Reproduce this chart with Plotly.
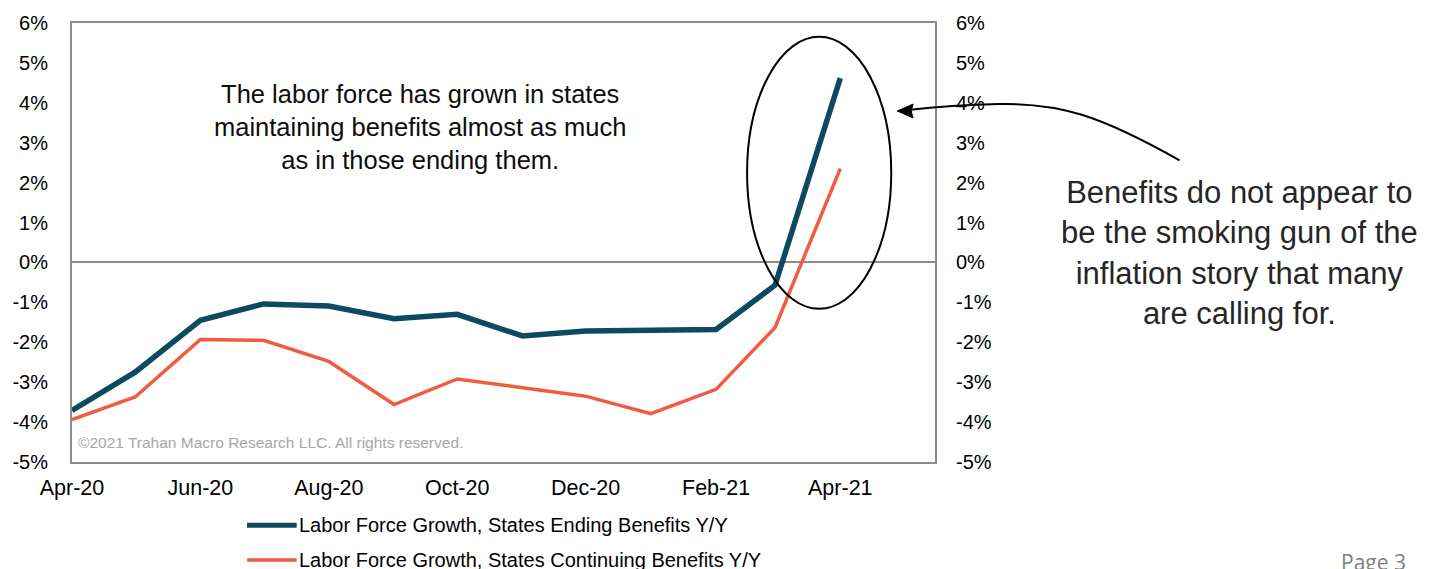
import plotly.graph_objects as go

# Monthly year-over-year labor force growth (%)
months = ["2020-04-01", "2020-05-01", "2020-06-01", "2020-07-01", "2020-08-01",
          "2020-09-01", "2020-10-01", "2020-11-01", "2020-12-01", "2021-01-01",
          "2021-02-01", "2021-03-01", "2021-04-01"]
ending_benefits = [-3.71, -2.75, -1.45, -1.04, -1.09, -1.41, -1.30, -1.84, -1.72,
                   -1.71, -1.68, -0.57, 4.62]
continuing_benefits = [-3.94, -3.37, -1.93, -1.95, -2.48, -3.56, -2.92, -3.14, -3.35,
                       -3.79, -3.18, -1.63, 2.35]

y_ticks = [-5, -4, -3, -2, -1, 0, 1, 2, 3, 4, 5, 6]
y_ticktext = [f"{v}%" for v in y_ticks]

name_ending = "Labor Force Growth, States Ending Benefits Y/Y"
name_continuing = "Labor Force Growth, States Continuing Benefits Y/Y"

C_ENDING = "#0C4A60"
C_CONT = "#F15B40"
FONT = "Liberation Sans, Arial, sans-serif"

W, H = 1442, 569
L, R, T, B = 67, 935, 18, 462  # plot rectangle in pixels


def px(x):
    return (x - L) / (R - L)


def py(y):
    return (B - y) / (B - T)


fig = go.Figure()
fig.add_trace(go.Scatter(x=months, y=ending_benefits, mode="lines", name=name_ending,
                         line=dict(color=C_ENDING, width=5.5), showlegend=False))
fig.add_trace(go.Scatter(x=months, y=continuing_benefits, mode="lines", name=name_continuing,
                         line=dict(color=C_CONT, width=3.5), yaxis="y2", showlegend=False))

axis_font = dict(family=FONT, size=20, color="#000000")

fig.update_layout(
    width=W, height=H,
    margin=dict(l=L, r=W - R, t=T, b=H - B, pad=0),
    paper_bgcolor="white", plot_bgcolor="white",
    font=dict(family=FONT, color="#000000"),
    xaxis=dict(
        type="date", range=["2020-04-01", "2021-05-16"],
        tick0="2020-04-01", dtick="M2", tickformat="%b-%y",
        showgrid=False, zeroline=False,
        showline=True, mirror=True, linecolor="#8C8C8C", linewidth=2,
        ticks="", ticklabelstandoff=5,
        tickfont=dict(family=FONT, size=21.5, color="#000000"),
    ),
    yaxis=dict(
        range=[-5, 6], tickvals=y_ticks, ticktext=y_ticktext,
        showgrid=False, zeroline=True, zerolinecolor="#8C8C8C", zerolinewidth=1.5,
        showline=True, mirror=True, linecolor="#8C8C8C", linewidth=2,
        ticks="", ticklabelstandoff=18, tickfont=axis_font,
    ),
    yaxis2=dict(
        range=[-5, 6], tickvals=y_ticks, ticktext=y_ticktext,
        overlaying="y", side="right", anchor="x",
        showgrid=False, zeroline=False, showline=False,
        ticks="", ticklabelstandoff=20, tickfont=axis_font,
    ),
)

shapes = []
# legend samples
shapes.append(dict(type="line", xref="paper", yref="paper",
                   x0=px(243), x1=px(293), y0=py(526), y1=py(526),
                   line=dict(color=C_ENDING, width=5)))
shapes.append(dict(type="line", xref="paper", yref="paper",
                   x0=px(243), x1=px(293), y0=py(561), y1=py(561),
                   line=dict(color=C_CONT, width=3.5)))
# ellipse highlighting the latest readings
shapes.append(dict(type="circle", xref="paper", yref="paper",
                   x0=px(746), x1=px(891), y0=py(307), y1=py(32),
                   line=dict(color="#000000", width=2)))
# curved callout arrow
curve = [(1181, 157), (1100, 111), (1060, 99), (1000, 100), (960, 101), (935, 103), (908, 106)]
p = "M {:.5f},{:.5f} C {:.5f},{:.5f} {:.5f},{:.5f} {:.5f},{:.5f} C {:.5f},{:.5f} {:.5f},{:.5f} {:.5f},{:.5f}".format(
    *[v for pt in curve for v in (px(pt[0]), py(pt[1]))])
shapes.append(dict(type="path", xref="paper", yref="paper", path=p,
                   line=dict(color="#000000", width=2)))
head = [(897, 107), (913, 100), (911, 107), (913, 114)]
hp = "M {:.5f},{:.5f} L {:.5f},{:.5f} L {:.5f},{:.5f} L {:.5f},{:.5f} Z".format(
    *[v for pt in head for v in (px(pt[0]), py(pt[1]))])
shapes.append(dict(type="path", xref="paper", yref="paper", path=hp,
                   fillcolor="#000000", line=dict(color="#000000", width=1)))
fig.update_layout(shapes=shapes)

annotations = [
    dict(text="The labor force has grown in states<br>maintaining benefits almost as much<br>as in those ending them.",
         x=px(417), y=py(123), xref="paper", yref="paper", showarrow=False,
         xanchor="center", yanchor="middle", align="center",
         font=dict(family=FONT, size=25.5, color="#0D0D0D")),
    dict(text="Benefits do not appear to<br>be the smoking gun of the<br>inflation story that many<br>are calling for.",
         x=px(1241), y=py(251), xref="paper", yref="paper", showarrow=False,
         xanchor="center", yanchor="middle", align="center",
         font=dict(family=FONT, size=31, color="#262626")),
    dict(text="©2021 Trahan Macro Research LLC. All rights reserved.",
         x=px(71), y=py(442), xref="paper", yref="paper", showarrow=False,
         xanchor="left", yanchor="middle",
         font=dict(family=FONT, size=15.5, color="#A6A6A6")),
    dict(text=name_ending, x=px(293), y=py(526), xref="paper", yref="paper",
         showarrow=False, xanchor="left", yanchor="middle",
         font=dict(family=FONT, size=20, color="#000000")),
    dict(text=name_continuing, x=px(293), y=py(561), xref="paper", yref="paper",
         showarrow=False, xanchor="left", yanchor="middle",
         font=dict(family=FONT, size=20, color="#000000")),
    dict(text="Page 3", x=px(1376), y=py(547), xref="paper", yref="paper",
         showarrow=False, xanchor="center", yanchor="top",
         font=dict(family="Open Sans, sans-serif", size=21, color="#7F7F7F")),
]
fig.update_layout(annotations=annotations)

fig.write_html("out.html")
